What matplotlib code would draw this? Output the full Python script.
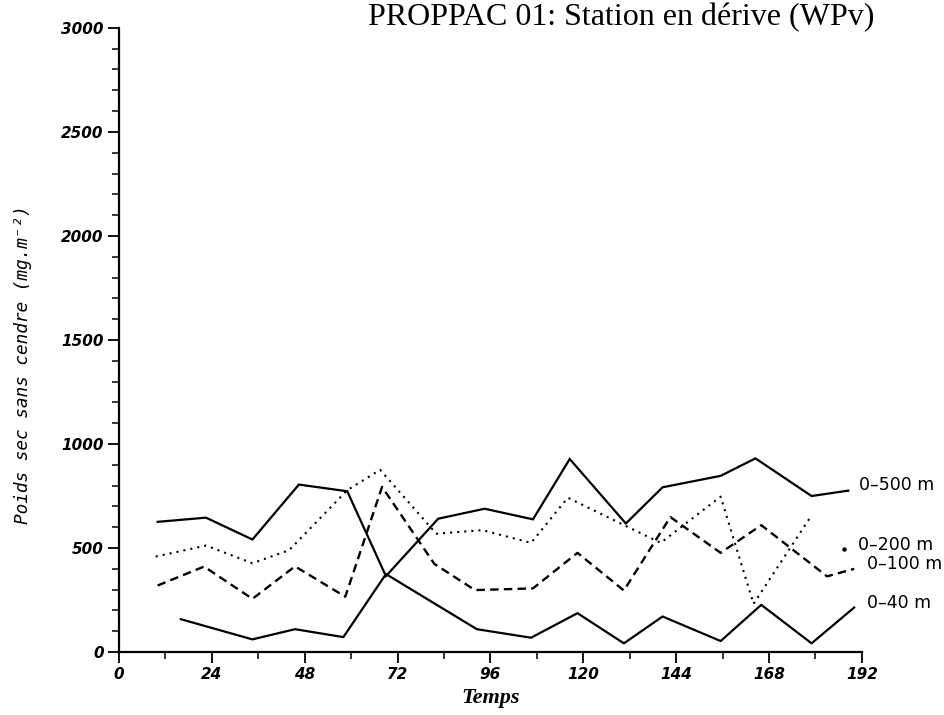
import matplotlib
matplotlib.use("Agg")
import matplotlib.pyplot as plt
from matplotlib.ticker import MultipleLocator

# temps (h) et poids sec sans cendre (mg.m-2) pour chaque couche
t_500 = [10, 22.5, 34.5, 46.5, 59, 69, 82.5, 94.5, 107, 116.5, 131, 140.5, 155.5, 164.5, 179, 188.5]
w_500 = [626, 646, 541, 805, 773, 365, 641, 689, 638, 928, 618, 792, 847, 931, 750, 776]

t_200 = [9.5, 22.5, 34.5, 44, 59, 67.5, 82, 94, 106.5, 116, 130, 140, 155.5, 164, 179]
w_200 = [459, 512, 427, 490, 778, 876, 569, 586, 525, 742, 615, 525, 747, 232, 657]
t_200_last = [187.5]
w_200_last = [496]

t_100 = [10, 22, 34.5, 45.5, 58.5, 68, 81.5, 92, 107, 118.5, 130.5, 142.5, 155.5, 166, 183, 190]
w_100 = [320, 411, 256, 412, 266, 794, 424, 298, 306, 477, 296, 649, 477, 610, 364, 400]

t_40 = [16, 34.5, 45.5, 58, 69, 92.5, 106.5, 118.5, 130.5, 140.5, 155.5, 166, 179, 190]
w_40 = [158, 61, 110, 72, 375, 110, 69, 187, 42, 171, 53, 227, 42, 214]

layer_labels = ["0–500 m", "0–200 m", "0–100 m", "0–40 m"]
label_pos = [(191.2, 802), (190.9, 517), (193.2, 425), (193.2, 237)]

fig = plt.figure(figsize=(9.44, 7.15), dpi=100)
ax = fig.add_axes([0.126, 0.088, 0.787, 0.873])

ax.plot(t_500, w_500, color="black", lw=1.6, solid_joinstyle="miter")
ax.plot(t_200, w_200, color="black", lw=1.5, linestyle=(0, (1, 2.4)))
ax.plot(t_200_last, w_200_last, "o", color="black", ms=2.2, clip_on=False)
ax.plot(t_100, w_100, color="black", lw=1.7, linestyle=(0, (3.6, 2.2)))
ax.plot(t_40, w_40, color="black", lw=1.6)

for txt, (x, y) in zip(layer_labels, label_pos):
    ax.text(x, y, txt, fontsize=12.5, ha="left", va="center", clip_on=False,
            family="DejaVu Sans")

ax.set_xlim(0, 192)
ax.set_ylim(0, 3000)
ax.xaxis.set_major_locator(MultipleLocator(24))
ax.xaxis.set_minor_locator(MultipleLocator(12))
ax.yaxis.set_major_locator(MultipleLocator(500))
ax.yaxis.set_minor_locator(MultipleLocator(100))

for side in ["top", "right"]:
    ax.spines[side].set_visible(False)
for side in ["left", "bottom"]:
    ax.spines[side].set_linewidth(1.6)

ax.tick_params(which="major", direction="out", length=8, width=1.3, labelsize=11, pad=3)
ax.tick_params(which="minor", direction="out", length=5, width=1.1)
for lab in ax.get_xticklabels() + ax.get_yticklabels():
    lab.set_fontstyle("italic")
    lab.set_fontweight("bold")

ax.set_xlabel("Temps", family="Liberation Serif", style="italic", weight="bold",
              fontsize=16, labelpad=4)
fig.text(0.024, 0.49, "Poids sec sans cendre (mg.m⁻²)", rotation=90,
         family="DejaVu Sans Mono", style="italic", fontsize=12.8,
         ha="center", va="center")

fig.text(0.39, 0.965, "PROPPAC 01: Station en dérive (WPv)",
         family="Liberation Serif", fontsize=23, ha="left", va="baseline")

fig.savefig("out.png", dpi=100)
